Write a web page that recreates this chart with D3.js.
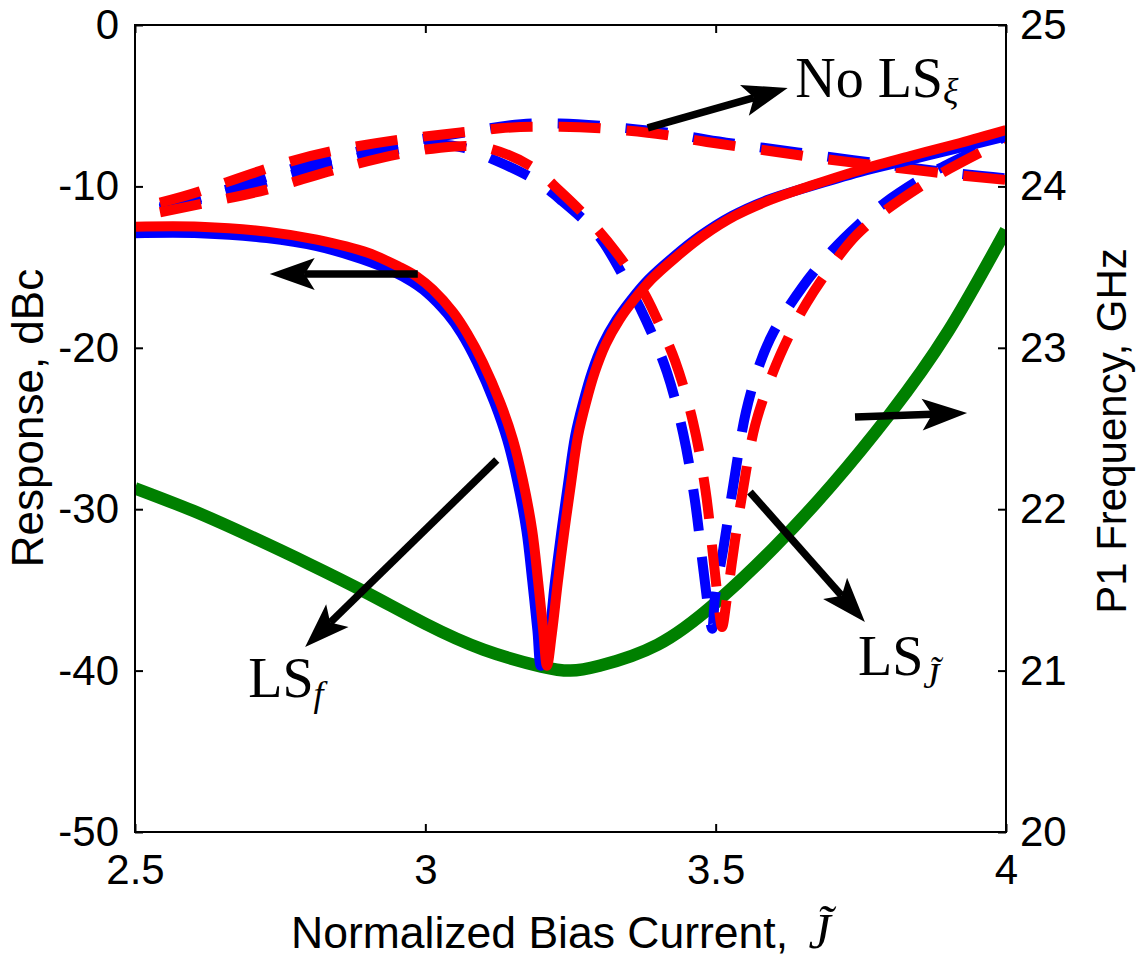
<!DOCTYPE html>
<html>
<head>
<meta charset="utf-8">
<script src="https://cdn.jsdelivr.net/npm/d3@7/dist/d3.min.js"></script>
<style>
  html, body { margin: 0; padding: 0; background: #fff; }
  svg { display: block; }
</style>
</head>
<body>
<svg id="chart" width="1141" height="960"></svg>
<script>
// ---- data: normalized bias current J vs. response (dBc) and P1 frequency (GHz) ----
const xTicks = [2.5, 3, 3.5, 4];
const yLeftTicks = [0, -10, -20, -30, -40, -50];
const yRightTicks = [25, 24, 23, 22, 21, 20];

// P1 frequency (right axis, GHz)
const freqP1 = [
  [2.5, 22.13], [2.6, 21.99], [2.7, 21.83], [2.8, 21.66], [2.9, 21.48], [3.0, 21.29],
  [3.1, 21.13], [3.2, 21.025], [3.25, 21.0], [3.3, 21.03], [3.4, 21.16], [3.5, 21.42],
  [3.6, 21.76], [3.7, 22.15], [3.8, 22.59], [3.9, 23.10], [4.0, 23.73]
];

// LS_f response, solid lines (left axis, dBc)
const lsfBlue = [
  [2.5, -12.9], [2.612, -12.9], [2.727, -13.2], [2.813, -13.7], [2.89, -14.5], [2.946, -15.3],
  [2.976, -15.9], [3.003, -16.6], [3.038, -17.9], [3.062, -19.1], [3.089, -20.9], [3.119, -23.4],
  [3.141, -25.7], [3.158, -28.2], [3.174, -31.3], [3.184, -34.4], [3.193, -37.5], [3.199, -39.7],
  [3.213, -37.67], [3.223, -34.57], [3.234, -31.47], [3.246, -28.38], [3.258, -25.46],
  [3.272, -23.36], [3.287, -21.50], [3.306, -19.76], [3.329, -18.28], [3.354, -17.04],
  [3.385, -15.74], [3.425, -14.44], [3.473, -13.07], [3.528, -11.83], [3.589, -10.84],
  [3.658, -10.05], [3.749, -9.1], [3.835, -8.35], [3.921, -7.6], [4.0, -6.9]
];
const lsfRed = [
  [2.5, -12.5], [2.612, -12.5], [2.727, -12.8], [2.813, -13.3], [2.9, -14.1], [2.956, -15.0],
  [2.986, -15.6], [3.013, -16.4], [3.048, -17.8], [3.072, -19.1], [3.099, -20.9], [3.129, -23.4],
  [3.151, -25.7], [3.168, -28.2], [3.184, -31.3], [3.194, -34.4], [3.203, -37.5], [3.2095, -39.7],
  [3.218, -37.67], [3.228, -34.57], [3.239, -31.47], [3.251, -28.38], [3.263, -25.46],
  [3.277, -23.36], [3.292, -21.50], [3.311, -19.76], [3.334, -18.28], [3.359, -17.04],
  [3.390, -15.74], [3.430, -14.44], [3.478, -13.07], [3.533, -11.83], [3.594, -10.84],
  [3.662, -9.98], [3.749, -8.98], [3.835, -8.12], [3.921, -7.31], [4.0, -6.51]
];

// No LS_xi response, dashed lines
const noLsBlue = [
  [2.543, -11.3], [2.612, -10.7], [2.727, -9.4], [2.841, -8.2], [2.955, -7.3], [3.026, -6.9],
  [3.129, -6.3], [3.184, -6.1], [3.232, -6.1], [3.301, -6.25], [3.411, -6.65], [3.485, -7.1],
  [3.641, -7.9], [3.870, -9.0], [4.0, -9.5]
];
const noLsRed = [
  [2.543, -11.0], [2.612, -10.3], [2.727, -8.9], [2.841, -7.8], [2.955, -7.1], [3.026, -6.8],
  [3.129, -6.4], [3.184, -6.3], [3.232, -6.3], [3.301, -6.4], [3.411, -6.8], [3.485, -7.25],
  [3.641, -8.05], [3.686, -8.3], [3.870, -9.1], [3.915, -9.3], [4.0, -9.6]
];

// LS_J response, dashed lines
const lsjBlue = [
  [2.543, -11.4], [2.612, -10.8], [2.727, -9.7], [2.841, -8.6], [2.955, -7.7], [3.026, -7.4],
  [3.065, -7.6], [3.115, -8.3], [3.184, -9.5], [3.232, -10.8], [3.297, -13.0], [3.340, -15.5],
  [3.380, -18.3], [3.416, -21.5], [3.444, -25.3], [3.464, -29.4], [3.478, -33.5], [3.488, -36.3],
  [3.494, -37.4], [3.499, -35.4], [3.513, -32.5], [3.530, -28.6], [3.552, -24.0], [3.576, -21.0],
  [3.600, -19.0], [3.650, -16.2], [3.700, -14.0], [3.745, -12.4], [3.792, -11.0], [3.860, -9.4],
  [3.907, -8.5], [3.976, -7.3], [4.0, -6.9]
];
const lsjRed = [
  [2.543, -11.6], [2.612, -11.1], [2.727, -10.2], [2.841, -9.0], [2.955, -8.0], [3.026, -7.6],
  [3.077, -7.5], [3.115, -7.7], [3.184, -8.8], [3.232, -10.3], [3.280, -12.0], [3.327, -14.0],
  [3.375, -16.5], [3.400, -18.3], [3.430, -20.8], [3.461, -24.6], [3.482, -28.7], [3.495, -32.7],
  [3.504, -35.6], [3.511, -37.3], [3.519, -35.6], [3.533, -32.0], [3.547, -28.8], [3.568, -24.8],
  [3.600, -21.4], [3.630, -19.0], [3.657, -17.2], [3.700, -14.9], [3.743, -13.0], [3.792, -11.5],
  [3.857, -9.9], [3.903, -8.9], [3.972, -7.6], [4.0, -7.1]
];

// annotation arrows: [J start, dB start, J tip, dB tip]
const arrows = [
  [2.987, -15.43, 2.732, -15.43],
  [3.383, -6.38, 3.624, -3.90],
  [3.740, -24.29, 3.933, -24.04],
  [3.123, -26.95, 2.793, -38.54],
  [3.559, -28.93, 3.757, -36.99]
];
// annotation labels: [J, dB, main text, subscript, subscript drop]
const labels = [
  [3.637, -4.46, "No LS", "\u03BE", 6],
  [2.695, -41.64, "LS", "f", 9],
  [3.745, -40.27, "LS", "J\u0303", 13]
];

// ---- layout ----
const svg = d3.select("#chart");
const pLeft = 135, pRight = 1006, pTop = 25, pBottom = 832;
const x = d3.scaleLinear().domain([2.5, 4]).range([pLeft, pRight]);
const yL = d3.scaleLinear().domain([-50, 0]).range([pBottom, pTop]);
const yR = d3.scaleLinear().domain([20, 25]).range([pBottom, pTop]);

svg.append("defs").append("clipPath").attr("id", "plot-clip")
  .append("rect").attr("x", pLeft).attr("y", pTop).attr("width", pRight - pLeft).attr("height", pBottom - pTop);

const sans = "'Liberation Sans', Arial, Helvetica, sans-serif";
const serif = "'Liberation Serif', 'Times New Roman', Times, serif";

// curves
const plot = svg.append("g").attr("clip-path", "url(#plot-clip)");
const lineL = d3.line().x(d => x(d[0])).y(d => yL(d[1])).curve(d3.curveCatmullRom.alpha(0.5));
const lineLSmooth = d3.line().x(d => x(d[0])).y(d => yL(d[1])).curve(d3.curveNatural);
const lineR = d3.line().x(d => x(d[0])).y(d => yR(d[1])).curve(d3.curveNatural);

plot.append("path").datum(freqP1).attr("d", lineR)
  .attr("fill", "none").attr("stroke", "#008000").attr("stroke-width", 12.5);

const dashed = "42,26";
[[noLsBlue, "#0000ff", lineLSmooth], [lsjBlue, "#0000ff", lineL],
 [noLsRed, "#ff0000", lineLSmooth], [lsjRed, "#ff0000", lineL]].forEach(([d, c, gen]) => {
  plot.append("path").datum(d).attr("d", gen)
    .attr("fill", "none").attr("stroke", c).attr("stroke-width", 10)
    .attr("stroke-dasharray", dashed).attr("stroke-linejoin", "round");
});
[[lsfBlue, "#0000ff"], [lsfRed, "#ff0000"]].forEach(([d, c]) => {
  plot.append("path").datum(d).attr("d", lineL)
    .attr("fill", "none").attr("stroke", c).attr("stroke-width", 10)
    .attr("stroke-linejoin", "round");
});

// axes (ticks point inward)
const fmt = d => String(d);
function styleAxis(g) {
  g.select(".domain").remove();
  g.selectAll(".tick line").attr("stroke", "#000").attr("stroke-width", 2);
  g.selectAll(".tick text").attr("fill", "#000").attr("font-family", sans).attr("font-size", 42);
}
svg.append("g").attr("transform", `translate(${pLeft},0)`)
  .call(d3.axisLeft(yL).tickValues(yLeftTicks).tickFormat(fmt).tickSize(-8).tickPadding(16))
  .call(styleAxis);
svg.append("g").attr("transform", `translate(${pRight},0)`)
  .call(d3.axisRight(yR).tickValues(yRightTicks).tickFormat(fmt).tickSize(-8).tickPadding(14))
  .call(styleAxis);
svg.append("g").attr("transform", `translate(0,${pBottom})`)
  .call(d3.axisBottom(x).tickValues(xTicks).tickFormat(fmt).tickSize(-8).tickPadding(22))
  .call(styleAxis);
svg.append("g").attr("transform", `translate(0,${pTop})`)
  .call(d3.axisTop(x).tickValues(xTicks).tickFormat("").tickSize(-8))
  .call(styleAxis);

svg.append("rect").attr("x", pLeft).attr("y", pTop).attr("width", pRight - pLeft).attr("height", pBottom - pTop)
  .attr("fill", "none").attr("stroke", "#000").attr("stroke-width", 2);

// axis titles
svg.append("text").attr("transform", "translate(43,418) rotate(-90)")
  .attr("text-anchor", "middle").attr("font-family", sans).attr("font-size", 44)
  .text("Response, dBc");
svg.append("text").attr("transform", "translate(1126,431) rotate(-90)")
  .attr("text-anchor", "middle").attr("font-family", sans).attr("font-size", 42)
  .text("P1 Frequency, GHz");
const xt = svg.append("text").attr("x", 291).attr("y", 948)
  .attr("font-family", sans).attr("font-size", 44.5);
xt.append("tspan").text("Normalized Bias Current, ");
xt.append("tspan").attr("dx", 8).attr("font-family", serif).attr("font-style", "italic").attr("font-size", 50)
  .text("J\u0303");

// annotation arrows
const ann = svg.append("g");
arrows.forEach(([j0, v0, j1, v1]) => {
  const sx = x(j0), sy = yL(v0), tx = x(j1), ty = yL(v1);
  const len = Math.hypot(tx - sx, ty - sy);
  const ux = (tx - sx) / len, uy = (ty - sy) / len;
  const nx = -uy, ny = ux;
  const L = 45, W = 16, N = 10;
  ann.append("line")
    .attr("x1", sx).attr("y1", sy)
    .attr("x2", tx - (L - N) * ux).attr("y2", ty - (L - N) * uy)
    .attr("stroke", "#000").attr("stroke-width", 7.5);
  const pts = [
    [tx, ty],
    [tx - L * ux + W * nx, ty - L * uy + W * ny],
    [tx - (L - N) * ux, ty - (L - N) * uy],
    [tx - L * ux - W * nx, ty - L * uy - W * ny]
  ];
  ann.append("polygon").attr("points", pts.map(p => p.join(",")).join(" ")).attr("fill", "#000");
});

// annotation labels
labels.forEach(([j, v, main, sub, drop]) => {
  const t = ann.append("text").attr("x", x(j)).attr("y", yL(v))
    .attr("font-family", serif).attr("font-size", 56).attr("fill", "#000");
  t.append("tspan").text(main);
  t.append("tspan").attr("font-style", "italic").attr("font-size", 36).attr("dy", drop).text(sub);
});
</script>
</body>
</html>
